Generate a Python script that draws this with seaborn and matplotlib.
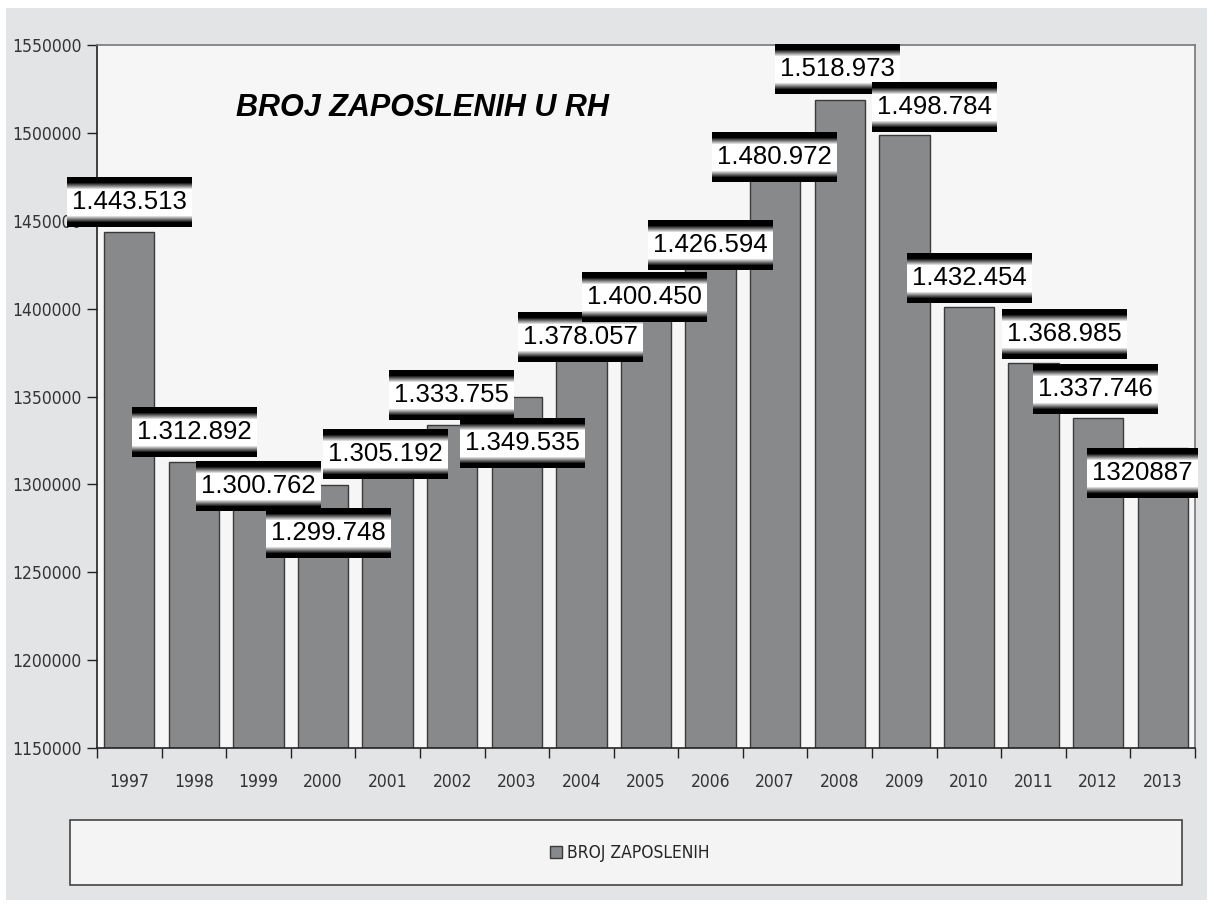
import numpy as np
import pandas as pd
import matplotlib
matplotlib.use("Agg")
import matplotlib.pyplot as plt
import seaborn as sns
from matplotlib.patches import Rectangle

# data
years = ['1997', '1998', '1999', '2000', '2001', '2002', '2003', '2004', '2005',
         '2006', '2007', '2008', '2009', '2010', '2011', '2012', '2013']
employed = [1443513, 1312892, 1300762, 1299748, 1305192, 1333755, 1349535, 1378057,
            1400450, 1426594, 1480972, 1518973, 1498784, 1401000, 1368985, 1337746,
            1320887]
value_labels = ['1.443.513', '1.312.892', '1.300.762', '1.299.748', '1.305.192',
                '1.333.755', '1.349.535', '1.378.057', '1.400.450', '1.426.594',
                '1.480.972', '1.518.973', '1.498.784', '1.432.454', '1.368.985',
                '1.337.746', '1320887']

# where the label boxes sit (category x, value y)
label_x = [0.0, 1.0, 2.0, 3.09, 3.97, 4.99, 6.08, 6.98, 7.98, 8.99, 9.98, 10.97,
           12.47, 13.01, 14.47, 14.95, 15.69]
label_y = [1460669, 1329801, 1299075, 1272333, 1317283, 1350853, 1323542, 1383855,
           1406614, 1436202, 1486273, 1536344, 1514723, 1417425, 1385562, 1354267,
           1306472]

df = pd.DataFrame({'year': years, 'employed': employed})

sns.set_theme(style='white')
plt.rcParams['font.family'] = ['Liberation Sans', 'DejaVu Sans']
tick_font = {'family': 'DejaVu Sans', 'stretch': 'condensed', 'size': 12.5}

fig = plt.figure(figsize=(12.13, 9.08), dpi=100)
fig.patch.set_facecolor('white')
fig.patches.append(Rectangle((6 / 1213, 8 / 908), 1201 / 1213, 892 / 908,
                             transform=fig.transFigure, facecolor='#e3e4e6',
                             edgecolor='none', zorder=-10))

ax = fig.add_axes([97 / 1213, 160 / 908, 1098 / 1213, 703 / 908])
ax.set_facecolor('#f6f6f6')

sns.barplot(data=df, x='year', y='employed', color='#88898b', saturation=1,
            edgecolor='#3a3a3a', linewidth=1, width=0.78, ax=ax, zorder=2)

ax.set_ylim(1150000, 1550000)
ax.set_xlim(-0.5, len(years) - 0.5)
ax.set_yticks(np.arange(1150000, 1550001, 50000))
ax.set_yticklabels([str(v) for v in range(1150000, 1550001, 50000)],
                   fontdict=tick_font, color='#333333')
ax.set_xticks(np.arange(-0.5, len(years), 1.0))
ax.set_xticklabels([])
ax.set_xticks(np.arange(len(years)), minor=True)
ax.set_xticklabels(years, minor=True, fontdict=tick_font, color='#333333')
ax.tick_params(axis='y', direction='out', length=7, width=1, color='#222222', pad=4,
               left=True)
ax.tick_params(axis='x', which='major', direction='out', length=7, width=1,
               color='#222222', bottom=True)
ax.tick_params(axis='x', which='minor', length=0, pad=18)
ax.set_xlabel('')
ax.set_ylabel('')
for side in ['left', 'bottom']:
    ax.spines[side].set_color('#222222')
    ax.spines[side].set_linewidth(1.2)
for side in ['top', 'right']:
    ax.spines[side].set_color('#777777')
    ax.spines[side].set_linewidth(1.2)

ax.text(0.296, 0.910, 'BROJ ZAPOSLENIH U RH', transform=ax.transAxes,
        ha='center', va='center', fontsize=22, fontweight='bold',
        fontstyle='italic', color='black')

# label boxes: black-white-black vertical gradient behind each value
prof = np.interp(np.arange(50), [0, 5, 12, 38, 45, 49], [0, 0, 1, 1, 0, 0])
grad = prof[:, None]
box_h = 50 / 703 * 400000
px_per_cat = 1098 / len(years)

fig.canvas.draw()
renderer = fig.canvas.get_renderer()
for lx, ly, txt in zip(label_x, label_y, value_labels):
    t = ax.text(lx, ly, txt, ha='center', va='center', fontsize=18.5,
                color='black', zorder=5, clip_on=False)
    w_px = t.get_window_extent(renderer).width + 10
    half_w = w_px / px_per_cat / 2
    ax.imshow(grad, cmap='gray', vmin=0, vmax=1, aspect='auto',
              extent=[lx - half_w, lx + half_w, ly - box_h / 2, ly + box_h / 2],
              interpolation='bilinear', zorder=4, clip_on=False)

ax.set_ylim(1150000, 1550000)
ax.set_xlim(-0.5, len(years) - 0.5)

# legend box below the plot
fig.patches.append(Rectangle((70 / 1213, 23 / 908), 1112 / 1213, 65 / 908,
                             transform=fig.transFigure, facecolor='#f4f4f4',
                             edgecolor='#444444', linewidth=1.2, zorder=1))
handle = Rectangle((0, 0), 1, 1, facecolor='#88898b', edgecolor='#3a3a3a')
fig.legend([handle], ['BROJ ZAPOSLENIH'], loc='center',
           bbox_to_anchor=(630 / 1213, 55 / 908), frameon=False,
           handlelength=0.7, handleheight=0.7, handletextpad=0.3,
           prop={'family': 'DejaVu Sans', 'stretch': 'condensed', 'size': 12.5})

fig.savefig('out.png', dpi=100)
